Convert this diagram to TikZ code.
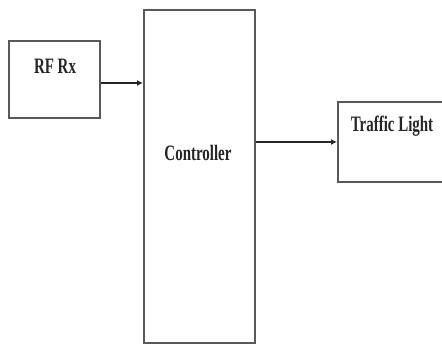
\documentclass[tikz,border=0pt]{standalone}
\usepackage{fontspec}
\setmainfont{Liberation Serif}
\usetikzlibrary{arrows.meta}
\begin{document}
\begin{tikzpicture}[x=1pt,y=-1pt,
  blockbox/.style={draw=black!65, line width=2pt, rectangle, inner sep=0pt, fill=white},
  lbl/.style={inner sep=0pt, font=\fontsize{22}{23}\selectfont\bfseries, text=black!85},
  conn/.style={line width=1.8pt, draw=black!85, -{Latex[length=6pt,width=6pt]}}]
\useasboundingbox[fill=white] (0,0) rectangle (442,344);
\node[blockbox, minimum width=91pt, minimum height=77pt] (rf) at (54.5,80) {};
\node[blockbox, minimum width=111pt, minimum height=333pt] (ctrl) at (199.5,176.5) {};
\node[blockbox, minimum width=108pt, minimum height=80pt] (tl) at (392,142) {};
\node[lbl] (rft) at (55,66) {\scalebox{0.68}[1]{RF Rx}};
\node[lbl] (ctt) at (198,153) {\scalebox{0.68}[1]{Controller}};
\node[lbl] (tlt) at (392,126) {\scalebox{0.68}[1]{Traffic Light}};
\draw[conn] ([yshift=-3pt]rf.east) -- ([yshift=-3pt]rf.east -| ctrl.west);
\draw[conn] (ctrl.east |- tl.west) -- (tl.west);
\end{tikzpicture}
\end{document}
